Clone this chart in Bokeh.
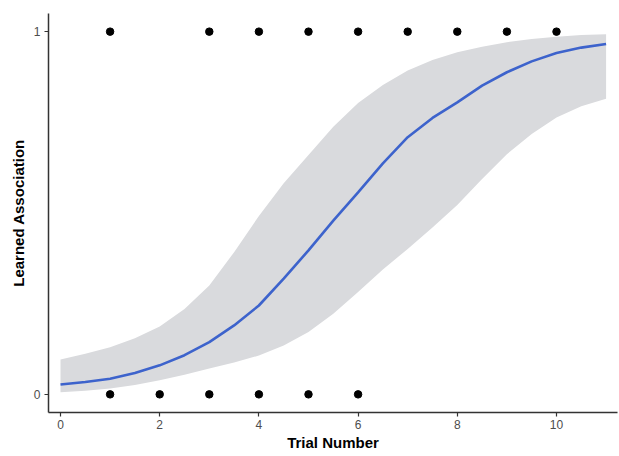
from bokeh.plotting import figure
from bokeh.models import Range1d, FixedTicker
from bokeh.embed import file_html
from bokeh.resources import INLINE

# observed trials
ones_x = [1, 3, 4, 5, 6, 7, 8, 9, 10]
zeros_x = [1, 2, 3, 4, 5, 6]

# fitted logistic curve and confidence band
fit_x = [0, 0.5, 1, 1.5, 2, 2.5, 3, 3.5, 4, 4.5, 5, 5.5, 6, 6.5, 7, 7.5, 8, 8.5, 9, 9.5, 10, 10.5, 11]
fit_y = [0.027, 0.034, 0.043, 0.059, 0.080, 0.108, 0.144, 0.190, 0.245, 0.319, 0.397, 0.479,
         0.557, 0.637, 0.709, 0.762, 0.805, 0.851, 0.888, 0.918, 0.941, 0.956, 0.966]
upper = [0.096, 0.112, 0.130, 0.155, 0.187, 0.235, 0.300, 0.392, 0.492, 0.582, 0.660, 0.738,
         0.803, 0.853, 0.893, 0.922, 0.943, 0.958, 0.971, 0.980, 0.986, 0.991, 0.993]
lower = [0.006, 0.010, 0.016, 0.026, 0.039, 0.054, 0.071, 0.088, 0.107, 0.135, 0.172, 0.222,
         0.282, 0.344, 0.401, 0.460, 0.522, 0.594, 0.662, 0.718, 0.763, 0.794, 0.815]

x_ticks = [0, 2, 4, 6, 8, 10]
y_ticks = [0, 1]

p = figure(width=619, height=456, output_backend="svg", toolbar_location=None,
           x_range=Range1d(-0.242, 11.23), y_range=Range1d(-0.05, 1.05),
           min_border_left=48, min_border_right=2, min_border_top=13, min_border_bottom=44)

p.varea(x=fit_x, y1=lower, y2=upper, fill_color="#d9dadd", fill_alpha=1.0)
p.line(x=fit_x, y=fit_y, line_color="#3d63cc", line_width=2.6)
p.scatter(x=ones_x, y=[1] * len(ones_x), size=7.5, color="black")
p.scatter(x=zeros_x, y=[0] * len(zeros_x), size=7.5, color="black")

p.grid.visible = False
p.outline_line_color = None

for ax in (p.xaxis[0], p.yaxis[0]):
    ax.axis_line_color = "#333333"
    ax.axis_line_width = 1.5
    ax.major_tick_line_color = "#333333"
    ax.major_tick_line_width = 1.2
    ax.major_tick_out = 4
    ax.major_tick_in = 0
    ax.minor_tick_line_color = None
    ax.major_label_text_color = "#4d4d4d"
    ax.major_label_text_font = "Liberation Sans"
    ax.major_label_text_font_size = "12px"
    ax.axis_label_text_font = "Liberation Sans"
    ax.axis_label_text_font_style = "bold"
    ax.axis_label_text_font_size = "15px"
    ax.axis_label_text_color = "black"

p.xaxis[0].ticker = FixedTicker(ticks=x_ticks)
p.yaxis[0].ticker = FixedTicker(ticks=y_ticks)
p.xaxis[0].axis_label = "Trial Number"
p.yaxis[0].axis_label = "Learned Association"
p.xaxis[0].major_label_standoff = 3
p.xaxis[0].axis_label_standoff = 2
p.yaxis[0].major_label_standoff = 4
p.yaxis[0].axis_label_standoff = 4

open("out.html", "w").write(file_html(p, INLINE))
